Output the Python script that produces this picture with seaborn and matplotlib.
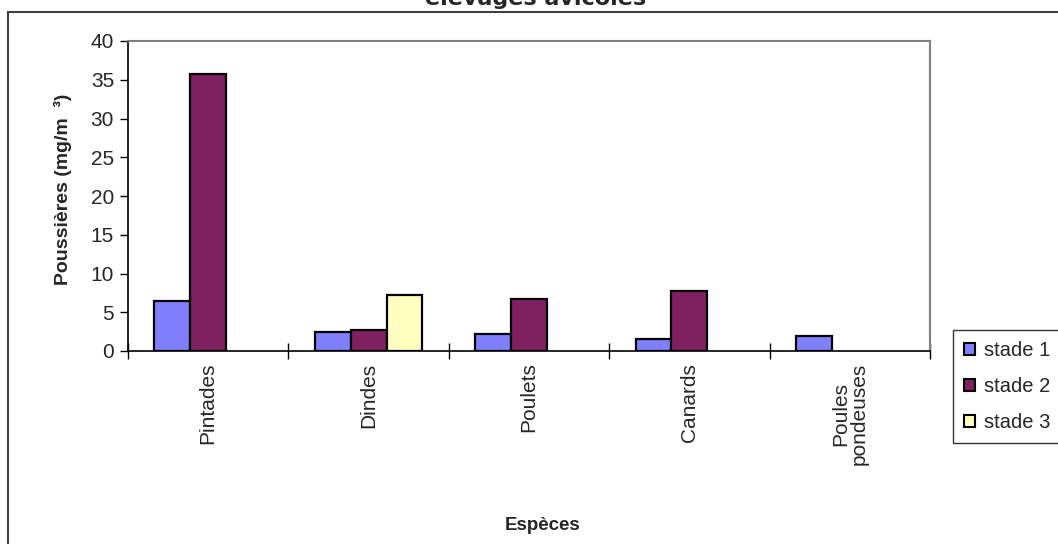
import numpy as np
import pandas as pd
import matplotlib
matplotlib.use("Agg")
import matplotlib.pyplot as plt
import seaborn as sns
from matplotlib.patches import Rectangle, Patch

# Dust concentration by species and rearing stage (mg/m3)
especes = ["Pintades", "Dindes", "Poulets", "Canards", "Poules\npondeuses"]
stades = ["stade 1", "stade 2", "stade 3"]
stade_1 = [6.4, 2.5, 2.2, 1.5, 2.0]
stade_2 = [35.8, 2.7, 6.7, 7.7, np.nan]
stade_3 = [np.nan, 7.2, np.nan, np.nan, np.nan]
y_ticks = [0, 5, 10, 15, 20, 25, 30, 35, 40]

couleurs = ["#8080FF", "#802060", "#FFFFC0"]

df = pd.DataFrame({
    "Espèce": especes * 3,
    "Stade": [s for s in stades for _ in especes],
    "Valeur": stade_1 + stade_2 + stade_3,
})

sns.set_theme(style="white")
plt.rcParams["font.family"] = ["Liberation Sans", "DejaVu Sans"]

fig = plt.figure(figsize=(10.58, 5.44), dpi=100)
ax = fig.add_axes([128 / 1058, 1 - 351 / 544, (930 - 128) / 1058, (351 - 41) / 544])

sns.barplot(data=df, x="Espèce", y="Valeur", hue="Stade", order=especes,
            hue_order=stades, palette=couleurs, width=0.67, dodge=True,
            edgecolor="black", linewidth=1.6, saturation=1, errorbar=None,
            legend=False, ax=ax)

ax.set_xlim(-0.5, len(especes) - 0.5)
ax.set_ylim(0, 40)
ax.set_yticks(y_ticks)
ax.set_yticklabels([str(v) for v in y_ticks], fontsize=15)

# category ticks sit on the boundaries between groups
ax.set_xticks(np.arange(len(especes) + 1) - 0.5)
ax.set_xticklabels([])
ax.tick_params(axis="x", which="major", direction="inout", length=11, width=1, color="black", bottom=True)
ax.tick_params(axis="y", which="major", direction="out", length=6, width=1, color="black", left=True, pad=4)
for i, nom in enumerate(especes):
    ax.text(i, -1.5, nom, rotation=90, ha="center", va="top", fontsize=15,
            multialignment="center", transform=ax.transData, linespacing=1.0)

for side in ["left", "bottom"]:
    ax.spines[side].set_color("black")
    ax.spines[side].set_linewidth(1.2)
for side in ["top", "right"]:
    ax.spines[side].set_visible(True)
    ax.spines[side].set_color("#808080")
    ax.spines[side].set_linewidth(1.5)

ax.set_xlabel("")
ax.set_ylabel("Poussières (mg/m  ³)", fontsize=14, fontweight="bold")
ax.yaxis.set_label_coords(-56 / 802, 0.52)
fig.text(543 / 1058, 1 - 526 / 544, "Espèces", ha="center", va="center",
         fontsize=13.5, fontweight="bold")

fig.text(536 / 1058, 1 - 5 / 544, "élevages avicoles", ha="center", va="baseline",
         fontsize=16, fontweight="bold", family="DejaVu Sans")

# outer chart frame
fig.patches.append(Rectangle((8 / 1058, -0.05), 1.2, 1 - 12 / 544 + 0.05,
                             transform=fig.transFigure, fill=False,
                             edgecolor="#404040", linewidth=1.5))

handles = [Patch(facecolor=c, edgecolor="black", linewidth=1.5) for c in couleurs]
leg = fig.legend(handles, stades, loc="upper left",
                 bbox_to_anchor=(953 / 1058, 1 - 330 / 544), frameon=True,
                 fancybox=False, shadow=False, fontsize=14.5,
                 handlelength=0.55, handleheight=0.55, handletextpad=0.45,
                 labelspacing=0.85, borderpad=0.55, borderaxespad=0)
leg.get_frame().set_edgecolor("black")
leg.get_frame().set_linewidth(1.0)

fig.savefig("out.png", dpi=100)
